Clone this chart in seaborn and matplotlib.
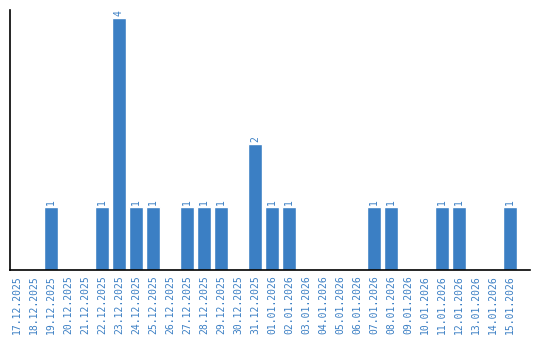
import matplotlib
matplotlib.use("Agg")
import matplotlib.pyplot as plt
import seaborn as sns
import pandas as pd

dates = ["17.12.2025", "18.12.2025", "19.12.2025", "20.12.2025", "21.12.2025",
         "22.12.2025", "23.12.2025", "24.12.2025", "25.12.2025", "26.12.2025",
         "27.12.2025", "28.12.2025", "29.12.2025", "30.12.2025", "31.12.2025",
         "01.01.2026", "02.01.2026", "03.01.2026", "04.01.2026", "05.01.2026",
         "06.01.2026", "07.01.2026", "08.01.2026", "09.01.2026", "10.01.2026",
         "11.01.2026", "12.01.2026", "13.01.2026", "14.01.2026", "15.01.2026"]
counts = [0, 0, 1, 0, 0, 1, 4, 1, 1, 0, 1, 1, 1, 0, 2,
          1, 1, 0, 0, 0, 0, 1, 1, 0, 0, 1, 1, 0, 0, 1]

df = pd.DataFrame({"date": dates, "count": counts})
blue = "#3b7fc4"
font = "DejaVu Sans Mono"

sns.set_style("white")
fig = plt.figure(figsize=(5.4, 3.4), dpi=100)
ax = fig.add_axes([0.0194, 0.206, 0.963, 0.764])
sns.barplot(data=df, x="date", y="count", color=blue, width=0.82,
            saturation=1, ax=ax)

for i, v in enumerate(counts):
    if v > 0:
        ax.text(i, v + 0.03, str(v), rotation=90, ha="center", va="bottom",
                color=blue, fontsize=7, family=font)

ax.set_xlim(-0.38, 30.2)
ax.set_ylim(0, 4.13)
ax.set_xlabel("")
ax.set_ylabel("")
ax.set_yticks([])
ax.set_xticks(range(len(dates)))
ax.set_xticklabels(dates, rotation=90, color=blue, fontsize=7, family=font)
ax.tick_params(axis="x", length=0, pad=4)
for s in ["top", "right"]:
    ax.spines[s].set_visible(False)
for s in ["left", "bottom"]:
    ax.spines[s].set_color("black")
    ax.spines[s].set_linewidth(1.2)

fig.savefig("out.png", dpi=100)
